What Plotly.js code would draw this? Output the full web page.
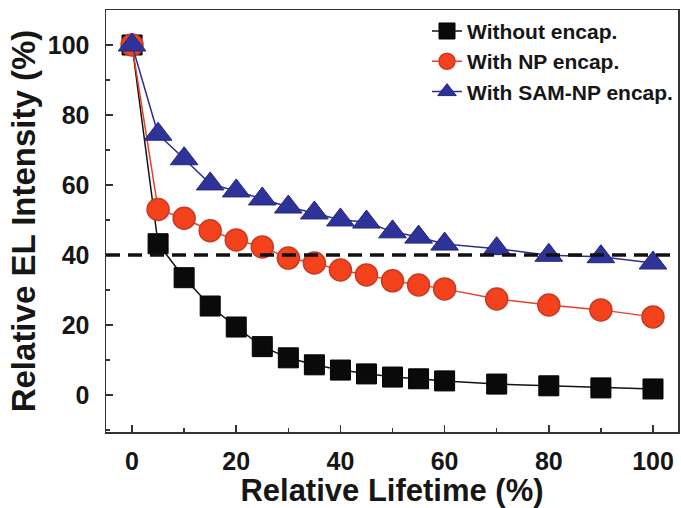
<!DOCTYPE html>
<html><head><meta charset="utf-8">
<script src="https://cdn.plot.ly/plotly-3.0.1.min.js"></script>
<style>html,body{margin:0;padding:0;background:#fff}#chart{width:681px;height:508px}</style>
</head><body><div id="chart"></div>
<script>
const lifetime = [0,5,10,15,20,25,30,35,40,45,50,55,60,70,80,90,100];
const withoutEncap = [100,43.2,33.5,25.4,19.4,13.8,10.6,8.6,7.1,6.0,5.1,4.6,4.0,3.1,2.6,2.0,1.7];
const npEncap = [100,53,50.5,46.9,44.3,42.3,39.1,37.7,35.7,34.3,32.6,31.4,30.3,27.4,25.7,24.3,22.3];
const samNpEncap = [100,74.5,67.5,60.3,58.3,56,53.7,52,50,49.4,46.6,45.1,43.1,41.8,39.9,39.5,37.7];
const seriesNames = ["Without encap.","With NP encap.","With SAM-NP encap."];
const threshold = 40;

const traces = [
  {x: lifetime, y: withoutEncap, name: seriesNames[0], mode: 'lines+markers',
   line: {color: '#111111', width: 1.5},
   marker: {symbol: 'square', size: 20, color: '#0a0a0a', line: {color: '#000', width: 1}}},
  {x: lifetime, y: npEncap, name: seriesNames[1], mode: 'lines+markers',
   line: {color: '#e8402a', width: 1.5},
   marker: {symbol: 'circle', size: 22, color: '#f4421c', line: {color: '#c83a25', width: 1.5}}},
  {x: lifetime, y: samNpEncap, name: seriesNames[2], mode: 'lines+markers',
   line: {color: '#2d2f96', width: 1.5},
   marker: {symbol: 'triangle-up', size: 24, color: '#2e3399', line: {color: '#23267a', width: 1}}}
];

const tickFont = {size: 25, weight: 'bold', color: '#161616'};
const layout = {
  width: 681, height: 508,
  margin: {l: 106, r: 3, t: 10, b: 76, autoexpand: false},
  paper_bgcolor: '#fff', plot_bgcolor: '#fff',
  font: {family: 'Liberation Sans, Arial, sans-serif', color: '#161616'},
  showlegend: true,
  legend: {x: 1.0, y: 0.998, xanchor: 'right', yanchor: 'top',
    bgcolor: 'rgba(255,255,255,0)', borderwidth: 0,
    font: {size: 21, family: 'Liberation Sans, Arial, sans-serif', weight: 'bold', color: '#161616'},
    tracegroupgap: 0},
  xaxis: {range: [-5, 104.8], tickvals: [0,20,40,60,80,100], showgrid: false, zeroline: false,
    ticks: 'inside', ticklen: 7, tickwidth: 1.5, tickcolor: '#333',
    minor: {dtick: 10, ticks: 'inside', ticklen: 4, tickwidth: 1.5, tickcolor: '#333', showgrid: false},
    showline: true, linecolor: '#333', linewidth: 1.5, mirror: true,
    tickfont: tickFont, ticklabelstandoff: 6,
    title: {text: 'Relative Lifetime (%)', font: {size: 31, weight: 'bold', color: '#161616'}, standoff: 4}},
  yaxis: {range: [-10.6, 110], tickvals: [0,20,40,60,80,100], showgrid: false, zeroline: false,
    ticks: 'inside', ticklen: 7, tickwidth: 1.5, tickcolor: '#333',
    minor: {dtick: 10, ticks: 'inside', ticklen: 4, tickwidth: 1.5, tickcolor: '#333', showgrid: false},
    showline: true, linecolor: '#333', linewidth: 1.5, mirror: true,
    tickfont: tickFont, ticklabelstandoff: 10,
    title: {text: 'Relative EL Intensity (%)', font: {size: 33, weight: 'bold', color: '#161616'}, standoff: 2}},
  shapes: [{type: 'line', xref: 'paper', x0: 0, x1: 1, yref: 'y', y0: threshold, y1: threshold,
    layer: 'above', line: {color: '#111', width: 3.5, dash: '14px,8px'}}]
};
Plotly.newPlot('chart', traces, layout, {displayModeBar: false, staticPlot: true});
</script></body></html>
